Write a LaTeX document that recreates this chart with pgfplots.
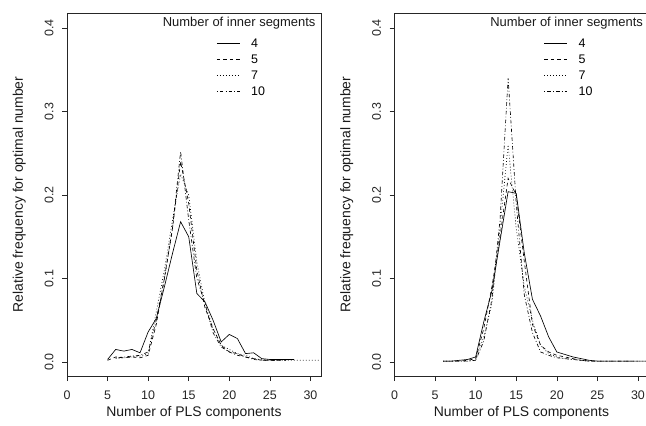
\documentclass[border=0pt]{standalone}
\usepackage{fontspec}
\setmainfont{Liberation Sans}
\usepackage{pgfplots}
\pgfplotsset{compat=1.18}
\pgfplotsset{
 rplot/.style={
  scale only axis, width=254bp, height=363bp,
  xmin=0, xmax=31.3, ymin=-0.0168, ymax=0.418,
  axis line style={line width=0.6bp, black!85},
  xtick={0,5,10,15,20,25,30}, ytick={0,0.1,0.2,0.3,0.4},
  tick align=outside, major tick length=5bp,
  tick style={line width=0.6bp, black!85},
  xtick pos=bottom, ytick pos=left,
  xticklabel shift=6bp, yticklabel shift=5bp,
  /pgf/number format/assume math mode=true,
  ticklabel style={font=\fontsize{12.5}{14}\selectfont, text=black!85},
  yticklabel style={rotate=90, anchor=south, /pgf/number format/fixed, /pgf/number format/precision=1, /pgf/number format/fixed zerofill},
  label style={font=\fontsize{14}{16}\selectfont, text=black!90},
  xlabel={Number of PLS components}, ylabel={Relative frequency for optimal number},
  xlabel style={yshift=0bp},
  ylabel style={yshift=12bp},
  legend style={at={(axis cs:18.4,0.391)}, anchor=north west, draw=none, fill=none,
    font=\fontsize{12.5}{14}\selectfont, row sep=0pt, column sep=9bp, inner sep=0pt,
    nodes={inner sep=2bp, text height=10bp, text depth=2bp}},
  legend cell align=left,
  legend image code/.code={\draw[##1] (0bp,0bp) -- (23bp,0bp);},
  every axis plot/.append style={line width=0.65bp, black},
 },
 s4/.style={solid},
 s5/.style={dash pattern=on 3.5bp off 3bp},
 s7/.style={dash pattern=on 0.8bp off 2.2bp},
 s10/.style={dash pattern=on 0.8bp off 2.2bp on 3.5bp off 2.2bp},
}
\begin{document}
\begin{tikzpicture}
\path[use as bounding box] (0,0) rectangle (646bp,426bp);
% left panel
\begin{axis}[rplot, at={(67bp,50bp)}, anchor=south west]
\addplot[s4] coordinates {(5,0.003)(6,0.015)(7,0.013)(8,0.015)(9,0.011)(10,0.036)(11,0.052)(12,0.09)(13,0.13)(14,0.168)(15,0.15)(16,0.082)(17,0.072)(18,0.05)(19,0.024)(20,0.033)(21,0.028)(22,0.01)(23,0.011)(24,0.004)(25,0.003)(26,0.003)(27,0.003)(28,0.003)};
\addplot[s5] coordinates {(5,0.002)(6,0.006)(7,0.005)(8,0.006)(9,0.005)(10,0.008)(11,0.045)(12,0.1)(13,0.16)(14,0.24)(15,0.19)(16,0.11)(17,0.065)(18,0.04)(19,0.02)(20,0.012)(21,0.01)(22,0.006)(23,0.004)(24,0.002)(25,0.002)(26,0.002)(27,0.002)};
\addplot[s7] coordinates {(6,0.004)(7,0.005)(8,0.006)(9,0.007)(10,0.01)(11,0.06)(12,0.11)(13,0.17)(14,0.225)(15,0.2)(16,0.12)(17,0.07)(18,0.04)(19,0.02)(20,0.015)(21,0.01)(22,0.008)(23,0.004)(24,0.003)(25,0.002)(26,0.002)(27,0.002)(28,0.002)(29,0.002)(30,0.002)(31,0.002)};
\addplot[s10] coordinates {(6,0.005)(7,0.006)(8,0.007)(9,0.008)(10,0.012)(11,0.05)(12,0.1)(13,0.16)(14,0.252)(15,0.17)(16,0.1)(17,0.07)(18,0.035)(19,0.018)(20,0.012)(21,0.008)(22,0.006)(23,0.003)(24,0.002)(25,0.002)(26,0.002)};
\legend{4,5,7,10}
\node[anchor=east, font=\fontsize{13}{15}\selectfont, text=black!90] at ([xshift=-2bp]rel axis cs:1,0.9725) {Number of inner segments};
\end{axis}
% right panel
\begin{axis}[rplot, at={(394.5bp,50bp)}, anchor=south west]
\addplot[s4] coordinates {(6,0.001)(7,0.001)(8,0.002)(9,0.003)(10,0.006)(11,0.048)(12,0.085)(13,0.145)(14,0.204)(15,0.202)(16,0.13)(17,0.075)(18,0.055)(19,0.03)(20,0.012)(21,0.009)(22,0.006)(23,0.004)(24,0.002)(25,0.001)(26,0.001)(27,0.001)(28,0.001)(29,0.001)(30,0.001)(31,0.001)};
\addplot[s5] coordinates {(6,0.001)(7,0.001)(8,0.001)(9,0.002)(10,0.004)(11,0.04)(12,0.09)(13,0.15)(14,0.22)(15,0.2)(16,0.12)(17,0.045)(18,0.02)(19,0.012)(20,0.008)(21,0.006)(22,0.004)(23,0.002)(24,0.001)(25,0.001)(26,0.001)(27,0.001)(28,0.001)(29,0.001)(30,0.001)};
\addplot[s7] coordinates {(6,0.001)(7,0.001)(8,0.001)(9,0.001)(10,0.002)(11,0.03)(12,0.07)(13,0.16)(14,0.26)(15,0.16)(16,0.09)(17,0.05)(18,0.02)(19,0.01)(20,0.006)(21,0.004)(22,0.003)(23,0.002)(24,0.001)(25,0.001)(26,0.001)(27,0.001)(28,0.001)(29,0.001)(30,0.001)(31,0.001)};
\addplot[s10] coordinates {(6,0.001)(7,0.001)(8,0.001)(9,0.001)(10,0.002)(11,0.025)(12,0.075)(13,0.17)(14,0.34)(15,0.19)(16,0.08)(17,0.035)(18,0.012)(19,0.008)(20,0.005)(21,0.004)(22,0.003)(23,0.002)(24,0.001)(25,0.001)(26,0.001)(27,0.001)(28,0.001)(29,0.001)};
\legend{4,5,7,10}
\node[anchor=east, font=\fontsize{13}{15}\selectfont, text=black!90] at ([xshift=-2bp]rel axis cs:1,0.9725) {Number of inner segments};
\end{axis}
\end{tikzpicture}
\end{document}
